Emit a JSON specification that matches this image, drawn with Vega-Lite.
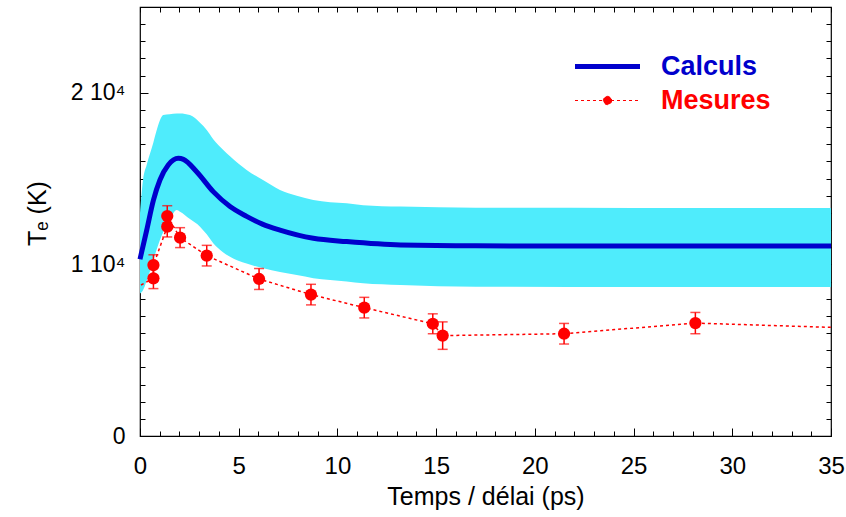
{
  "$schema": "https://vega.github.io/schema/vega-lite/v6.json",
  "autosize": "none",
  "width": 691,
  "height": 429,
  "padding": {"left": 140, "top": 7, "right": 15, "bottom": 81},
  "background": "white",
  "config": {
    "view": {"stroke": "black", "strokeWidth": 1.2},
    "font": "Liberation Sans",
    "axis": {
      "labelFont": "Liberation Sans",
      "titleFont": "Liberation Sans",
      "labelColor": "black",
      "titleColor": "black",
      "tickColor": "black",
      "grid": false,
      "domain": false,
      "labelFlush": false,
      "titleFontWeight": "normal"
    }
  },
  "datasets": {
    "band": [
      {"t": 0, "lo": 8300, "hi": 13000},
      {"t": 0.15, "lo": 8500, "hi": 14900},
      {"t": 0.34, "lo": 9050, "hi": 15800},
      {"t": 0.67, "lo": 10200, "hi": 17080},
      {"t": 0.84, "lo": 10850, "hi": 17800},
      {"t": 1.18, "lo": 11900, "hi": 18700},
      {"t": 1.5, "lo": 12600, "hi": 18750},
      {"t": 1.86, "lo": 13170, "hi": 18800},
      {"t": 2.03, "lo": 13070, "hi": 18800},
      {"t": 2.53, "lo": 12640, "hi": 18700},
      {"t": 3.04, "lo": 12200, "hi": 18250},
      {"t": 3.38, "lo": 11750, "hi": 17830},
      {"t": 3.71, "lo": 11230, "hi": 17300},
      {"t": 4.22, "lo": 10700, "hi": 16670},
      {"t": 4.56, "lo": 10450, "hi": 16300},
      {"t": 5.4, "lo": 10050, "hi": 15500},
      {"t": 6.25, "lo": 9770, "hi": 14900},
      {"t": 7.09, "lo": 9550, "hi": 14340},
      {"t": 7.94, "lo": 9380, "hi": 14000},
      {"t": 8.78, "lo": 9200, "hi": 13750},
      {"t": 9.63, "lo": 9090, "hi": 13620},
      {"t": 10.47, "lo": 9000, "hi": 13560},
      {"t": 11.3, "lo": 8900, "hi": 13450},
      {"t": 13.2, "lo": 8800, "hi": 13370},
      {"t": 17, "lo": 8700, "hi": 13300},
      {"t": 25, "lo": 8680, "hi": 13290},
      {"t": 35, "lo": 8680, "hi": 13290}
    ],
    "calc": [
      {"t": 0, "Te": 10300, "serie": "Calculs"},
      {"t": 0.34, "Te": 12000, "serie": "Calculs"},
      {"t": 0.68, "Te": 13750, "serie": "Calculs"},
      {"t": 1.01, "Te": 14920, "serie": "Calculs"},
      {"t": 1.43, "Te": 15790, "serie": "Calculs"},
      {"t": 1.94, "Te": 16180, "serie": "Calculs"},
      {"t": 2.2, "Te": 16120, "serie": "Calculs"},
      {"t": 2.87, "Te": 15400, "serie": "Calculs"},
      {"t": 3.71, "Te": 14240, "serie": "Calculs"},
      {"t": 4.56, "Te": 13370, "serie": "Calculs"},
      {"t": 5.4, "Te": 12800, "serie": "Calculs"},
      {"t": 6.2, "Te": 12350, "serie": "Calculs"},
      {"t": 7.09, "Te": 12000, "serie": "Calculs"},
      {"t": 8.78, "Te": 11520, "serie": "Calculs"},
      {"t": 10.47, "Te": 11330, "serie": "Calculs"},
      {"t": 13.2, "Te": 11130, "serie": "Calculs"},
      {"t": 17, "Te": 11080, "serie": "Calculs"},
      {"t": 25, "Te": 11070, "serie": "Calculs"},
      {"t": 35, "Te": 11070, "serie": "Calculs"}
    ],
    "mes": [
      {"k": 1, "t": 0.05, "Te": 8800, "lo": null, "hi": null, "mark": false, "serie": "Mesures"},
      {"k": 2, "t": 0.68, "Te": 9190, "lo": 8590, "hi": 9790, "mark": true, "serie": "Mesures"},
      {"k": 3, "t": 0.68, "Te": 9960, "lo": 9360, "hi": 10560, "mark": true, "serie": "Mesures"},
      {"k": 4, "t": 1.38, "Te": 12200, "lo": 11600, "hi": 12800, "mark": true, "serie": "Mesures"},
      {"k": 5, "t": 1.38, "Te": 12820, "lo": 12220, "hi": 13420, "mark": true, "serie": "Mesures"},
      {"k": 6, "t": 2.03, "Te": 11560, "lo": 10980, "hi": 12140, "mark": true, "serie": "Mesures"},
      {"k": 7, "t": 3.38, "Te": 10510, "lo": 9910, "hi": 11110, "mark": true, "serie": "Mesures"},
      {"k": 8, "t": 6.03, "Te": 9150, "lo": 8540, "hi": 9760, "mark": true, "serie": "Mesures"},
      {"k": 9, "t": 8.66, "Te": 8240, "lo": 7640, "hi": 8840, "mark": true, "serie": "Mesures"},
      {"k": 10, "t": 11.36, "Te": 7480, "lo": 6880, "hi": 8080, "mark": true, "serie": "Mesures"},
      {"k": 11, "t": 14.83, "Te": 6540, "lo": 5960, "hi": 7120, "mark": true, "serie": "Mesures"},
      {"k": 12, "t": 15.33, "Te": 5850, "lo": 5050, "hi": 6650, "mark": true, "serie": "Mesures"},
      {"k": 13, "t": 21.48, "Te": 5960, "lo": 5360, "hi": 6560, "mark": true, "serie": "Mesures"},
      {"k": 14, "t": 28.13, "Te": 6580, "lo": 5960, "hi": 7200, "mark": true, "serie": "Mesures"},
      {"k": 15, "t": 35, "Te": 6330, "lo": null, "hi": null, "mark": false, "serie": "Mesures"}
    ]
  },
  "resolve": {"axis": {"x": "independent", "y": "independent"}},
  "layer": [
    {
      "data": {"name": "band"},
      "mark": {"type": "area", "color": "#4FECFC", "opacity": 1, "interpolate": "monotone"},
      "encoding": {
        "x": {"field": "t", "type": "quantitative",
          "scale": {"domain": [0, 35], "nice": false, "zero": false},
          "axis": {"orient": "bottom", "values": [0, 5, 10, 15, 20, 25, 30, 35], "tickSize": -8, "labelPadding": 26, "labelFontSize": 24, "title": "Temps / délai (ps)", "titleFontSize": 25, "titlePadding": 6}},
        "y": {"field": "hi", "type": "quantitative",
          "scale": {"domain": [0, 25000], "nice": false},
          "axis": {"orient": "left", "values": [0, 10000, 20000], "tickSize": -8, "labelPadding": 23, "labelFontSize": 23,
            "labelExpr": "datum.value == 0 ? '0' : (datum.value / 10000) + ' 10⁴'",
            "title": "Tₑ (K)", "titleFontSize": 25, "titlePadding": 20, "titleY": 206}},
        "y2": {"field": "lo"}
      }
    },
    {
      "data": {"name": "calc"},
      "mark": {"type": "line", "strokeWidth": 5, "interpolate": "monotone"},
      "encoding": {
        "x": {"field": "t", "type": "quantitative",
          "axis": {"orient": "bottom", "values": [0,1,2,3,4,5,6,7,8,9,10,11,12,13,14,15,16,17,18,19,20,21,22,23,24,25,26,27,28,29,30,31,32,33,34,35], "tickSize": -5, "labels": false, "title": null}},
        "y": {"field": "Te", "type": "quantitative",
          "axis": {"orient": "left", "values": [1000,2000,3000,4000,5000,6000,7000,8000,9000,10000,11000,12000,13000,14000,15000,16000,17000,18000,19000,20000,21000,22000,23000,24000], "tickSize": -5, "labels": false, "title": null}},
        "color": {"field": "serie", "type": "nominal",
          "scale": {"domain": ["Calculs", "Mesures"], "range": ["#0000CC", "#FF0000"]},
          "legend": {
            "orient": "none", "legendX": 454, "legendY": 46, "title": null,
            "symbolType": "M-2.5,0L2.5,0", "symbolSize": 676, "symbolStrokeWidth": 5,
            "labelFont": "Liberation Sans", "labelFontSize": 27, "labelFontWeight": "bold", "labelOffset": 40,
            "rowPadding": 6,
            "encode": {
              "labels": {"update": {"fill": {"signal": "datum.value == 'Mesures' ? '#FF0000' : '#0000CC'"}}},
              "symbols": {"update": {
                "shape": {"signal": "datum.value == 'Mesures' ? 'M-2.5,0L2.5,0M0.32,0A0.32,0.32 0 1 1 -0.32,0A0.32,0.32 0 1 1 0.32,0' : 'M-2.5,0L2.5,0'"},
                "strokeWidth": {"signal": "datum.value == 'Mesures' ? 1 : 5"},
                "strokeDash": {"signal": "datum.value == 'Mesures' ? [3, 3] : [1, 0]"},
                "fill": {"signal": "datum.value == 'Mesures' ? '#FF0000' : 'transparent'"},
                "stroke": {"signal": "datum.value == 'Mesures' ? '#FF0000' : '#0000CC'"}
              }}
            }
          }}
      }
    },
    {
      "data": {"name": "mes"},
      "mark": {"type": "line", "strokeWidth": 1.5, "strokeDash": [3, 3]},
      "encoding": {
        "x": {"field": "t", "type": "quantitative",
          "axis": {"orient": "top", "values": [0,1,2,3,4,5,6,7,8,9,10,11,12,13,14,15,16,17,18,19,20,21,22,23,24,25,26,27,28,29,30,31,32,33,34,35], "tickSize": -5, "labels": false, "title": null}},
        "y": {"field": "Te", "type": "quantitative",
          "axis": {"orient": "right", "values": [1000,2000,3000,4000,5000,6000,7000,8000,9000,10000,11000,12000,13000,14000,15000,16000,17000,18000,19000,20000,21000,22000,23000,24000], "tickSize": -5, "labels": false, "title": null}},
        "order": {"field": "k"},
        "color": {"field": "serie", "type": "nominal"}
      }
    },
    {
      "data": {"name": "mes"},
      "transform": [{"filter": "datum.mark"}],
      "mark": {"type": "errorbar", "color": "#FF0000", "thickness": 1.5, "ticks": {"size": 10, "thickness": 1.5, "color": "#FF0000"}},
      "encoding": {
        "x": {"field": "t", "type": "quantitative", "axis": null},
        "y": {"field": "lo", "type": "quantitative", "axis": null},
        "y2": {"field": "hi"}
      }
    },
    {
      "data": {"name": "mes"},
      "transform": [{"filter": "datum.mark"}],
      "mark": {"type": "point", "filled": true, "opacity": 1, "size": 150, "color": "#FF0000"},
      "encoding": {
        "x": {"field": "t", "type": "quantitative", "axis": null},
        "y": {"field": "Te", "type": "quantitative", "axis": null}
      }
    }
  ]
}
